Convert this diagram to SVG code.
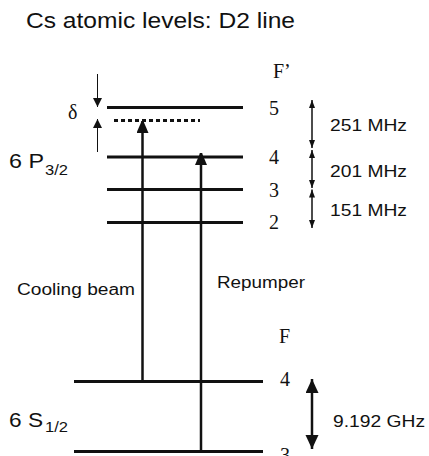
<svg xmlns="http://www.w3.org/2000/svg" width="429" height="456" viewBox="0 0 429 456">
<defs>
<marker id="big" markerWidth="12" markerHeight="14" refX="12" refY="6" orient="auto" markerUnits="userSpaceOnUse">
<path d="M0,0 L14,6 L0,12 Z" fill="#111"/>
</marker>
<marker id="sm" markerWidth="8" markerHeight="8" refX="8" refY="3" orient="auto" markerUnits="userSpaceOnUse">
<path d="M0,0 L8,3 L0,6 Z" fill="#111"/>
</marker>
<marker id="dm" markerWidth="10" markerHeight="10" refX="9" refY="4.5" orient="auto" markerUnits="userSpaceOnUse">
<path d="M0,0 L9,4.5 L0,9 Z" fill="#111"/>
</marker>
<marker id="gh" markerWidth="16" markerHeight="14" refX="14" refY="6.5" orient="auto" markerUnits="userSpaceOnUse">
<path d="M0,0 L14,6.5 L0,13 Z" fill="#111"/>
</marker>
</defs>
<style>
.lvl{stroke:#111;stroke-width:3;fill:none}
.beam{stroke:#111;stroke-width:2.5;fill:none}
.dbl{stroke:#111;stroke-width:1.5;fill:none}
.thin{stroke:#111;stroke-width:1;fill:none}
.sans{font-family:"Liberation Sans",Arial,sans-serif;fill:#111}
.serif{font-family:"Liberation Serif","Times New Roman",serif;fill:#111;font-size:20px}
</style>
<rect width="429" height="456" fill="#fff"/>
<text class="sans" x="26" y="28" font-size="22" textLength="269" lengthAdjust="spacingAndGlyphs">Cs atomic levels: D2 line</text>

<g id="excited">
<line class="lvl" x1="107" y1="107.5" x2="243" y2="107.5"/>
<line class="lvl" x1="107" y1="157" x2="243" y2="157"/>
<line class="lvl" x1="107" y1="189.5" x2="243" y2="189.5"/>
<line class="lvl" x1="107" y1="222.5" x2="243" y2="222.5"/>
<line class="lvl" x1="114" y1="120.5" x2="200" y2="120.5" stroke-dasharray="4,3"/>
<text class="sans" x="9" y="168" font-size="21" textLength="35" lengthAdjust="spacingAndGlyphs">6 P</text>
<text class="sans" x="45" y="175" font-size="14" textLength="23" lengthAdjust="spacingAndGlyphs">3/2</text>
<text class="serif" x="273" y="78">F’</text>
<text class="serif" x="269" y="115">5</text>
<text class="serif" x="269" y="164">4</text>
<text class="serif" x="269" y="197">3</text>
<text class="serif" x="269" y="229">2</text>
</g>

<g id="ground">
<line class="lvl" x1="74" y1="381.5" x2="263" y2="381.5"/>
<line class="lvl" x1="74" y1="451.5" x2="263" y2="451.5"/>
<text class="sans" x="9" y="426.5" font-size="21" textLength="34" lengthAdjust="spacingAndGlyphs">6 S</text>
<text class="sans" x="45" y="432" font-size="14" textLength="23" lengthAdjust="spacingAndGlyphs">1/2</text>
<text class="serif" x="279" y="343">F</text>
<text class="serif" x="280" y="386">4</text>
<text class="serif" x="280" y="462">3</text>
</g>

<g id="labels">
<text class="serif" x="68" y="119">δ</text>
<text class="sans" x="330" y="131" font-size="16" textLength="77" lengthAdjust="spacingAndGlyphs">251 MHz</text>
<text class="sans" x="330" y="177" font-size="16" textLength="77" lengthAdjust="spacingAndGlyphs">201 MHz</text>
<text class="sans" x="330" y="216" font-size="16" textLength="77" lengthAdjust="spacingAndGlyphs">151 MHz</text>
<text class="sans" x="333" y="427" font-size="16" textLength="92" lengthAdjust="spacingAndGlyphs">9.192 GHz</text>
<text class="sans" x="17" y="295" font-size="16" textLength="118" lengthAdjust="spacingAndGlyphs">Cooling beam</text>
<text class="sans" x="217" y="288" font-size="16" textLength="88" lengthAdjust="spacingAndGlyphs">Repumper</text>
</g>

<g id="connectors">
<line class="beam" x1="142.5" y1="381" x2="142.5" y2="121" marker-end="url(#big)"/>
<line class="beam" x1="201" y1="451" x2="201" y2="153" marker-end="url(#big)"/>
<line class="thin" x1="97.5" y1="74" x2="97.5" y2="107" marker-end="url(#dm)"/>
<line class="thin" x1="97.5" y1="152" x2="97.5" y2="119" marker-end="url(#dm)"/>
<line class="dbl" x1="312" y1="124" x2="312" y2="100" marker-end="url(#sm)"/>
<line class="dbl" x1="312" y1="124" x2="312" y2="148" marker-end="url(#sm)"/>
<line class="dbl" x1="312" y1="169" x2="312" y2="150" marker-end="url(#sm)"/>
<line class="dbl" x1="312" y1="169" x2="312" y2="188" marker-end="url(#sm)"/>
<line class="dbl" x1="312" y1="208" x2="312" y2="189.5" marker-end="url(#sm)"/>
<line class="dbl" x1="312" y1="208" x2="312" y2="228" marker-end="url(#sm)"/>
<line class="beam" x1="312" y1="414" x2="312" y2="379" marker-end="url(#gh)"/>
<line class="beam" x1="312" y1="414" x2="312" y2="449" marker-end="url(#gh)"/>
</g>
</svg>
